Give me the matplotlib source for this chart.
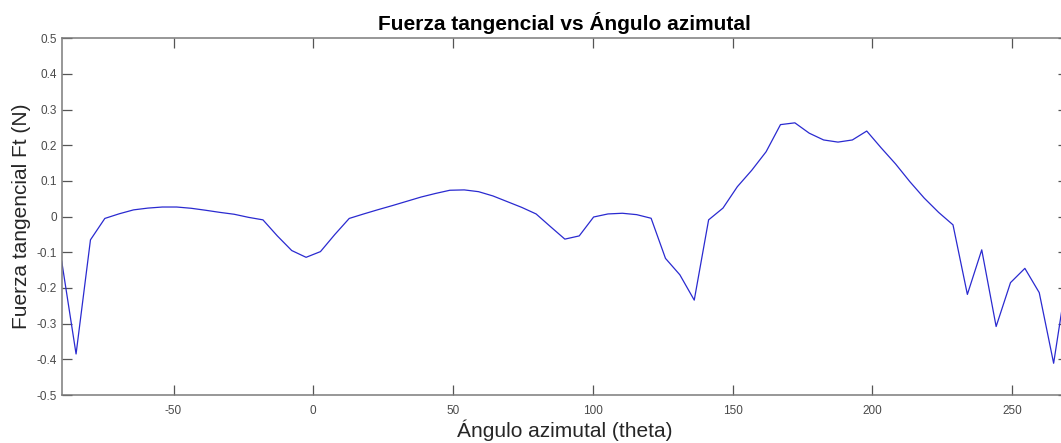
import matplotlib
matplotlib.use("Agg")
import matplotlib.pyplot as plt

plt.rcParams['font.family'] = ['Liberation Sans', 'DejaVu Sans']

# Azimuthal angle (deg) and tangential force (N)
theta = [-90.00, -84.86, -79.71, -74.57, -69.43, -64.29, -59.14, -54.00, -48.86,
         -43.71, -38.57, -33.43, -28.29, -23.14, -18.00, -12.86, -7.71, -2.57,
         2.57, 7.71, 12.86, 18.00, 23.14, 28.29, 33.43, 38.57, 43.71, 48.86,
         54.00, 59.14, 64.29, 69.43, 74.57, 79.71, 84.86, 90.00, 95.14, 100.29,
         105.43, 110.57, 115.71, 120.86, 126.00, 131.14, 136.29, 141.43, 146.57,
         151.71, 156.86, 162.00, 167.14, 172.29, 177.43, 182.57, 187.71, 192.86,
         198.00, 203.14, 208.29, 213.43, 218.57, 223.71, 228.86, 234.00, 239.14,
         244.29, 249.43, 254.57, 259.71, 264.86, 270.00]
ft = [-0.125, -0.385, -0.065, -0.005, 0.008, 0.019, 0.024, 0.027, 0.027,
      0.0235, 0.018, 0.012, 0.0067, -0.002, -0.009, -0.054, -0.095, -0.114,
      -0.098, -0.050, -0.005, 0.0075, 0.0195, 0.031, 0.043, 0.055, 0.065, 0.074,
      0.075, 0.070, 0.058, 0.042, 0.026, 0.0076, -0.028, -0.063, -0.054, -0.001,
      0.0076, 0.0095, 0.0056, -0.0045, -0.117, -0.163, -0.234, -0.009, 0.024,
      0.084, 0.130, 0.182, 0.258, 0.263, 0.234, 0.215, 0.209, 0.215,
      0.240, 0.193, 0.148, 0.098, 0.052, 0.012, -0.023, -0.218, -0.093,
      -0.308, -0.185, -0.145, -0.213, -0.411, -0.15]

xticks = [-50, 0, 50, 100, 150, 200, 250]
yticks = [-0.5, -0.4, -0.3, -0.2, -0.1, 0, 0.1, 0.2, 0.3, 0.4, 0.5]
ytick_labels = ['-0.5', '-0.4', '-0.3', '-0.2', '-0.1', '0', '0.1', '0.2', '0.3', '0.4', '0.5']

W, H = 1061, 443
fig = plt.figure(figsize=(W / 100, H / 100), dpi=100)
ax = fig.add_axes([61.7 / W, 48 / H, 1006.3 / W, 356.7 / H])

ax.plot(theta, ft, color='#2a2ad0', linewidth=0.9)

ax.set_xlim(-90, 270)
ax.set_ylim(-0.5, 0.5)
ax.set_xticks(xticks)
ax.set_xticklabels([str(v) for v in xticks])
ax.set_yticks(yticks)
ax.set_yticklabels(ytick_labels)

spine_col = '#7a7a7a'
for s in ax.spines.values():
    s.set_color(spine_col)
    s.set_linewidth(1.1)

ax.tick_params(axis='both', which='both', direction='in', length=7.2, width=0.9,
               color='#555555', labelcolor='#4a4a4a', labelsize=8.5,
               top=True, right=True)
ax.tick_params(axis='x', pad=7)
ax.tick_params(axis='y', pad=3.5)

ax.set_title('Fuerza tangencial vs Ángulo azimutal', fontsize=15, fontweight='bold',
             color='black', pad=6)
ax.set_xlabel('Ángulo azimutal (theta)', fontsize=15, color='#262626', labelpad=2)
ax.set_ylabel('Fuerza tangencial Ft (N)', fontsize=15, color='#262626', labelpad=4)

fig.savefig('out.png', dpi=100)
